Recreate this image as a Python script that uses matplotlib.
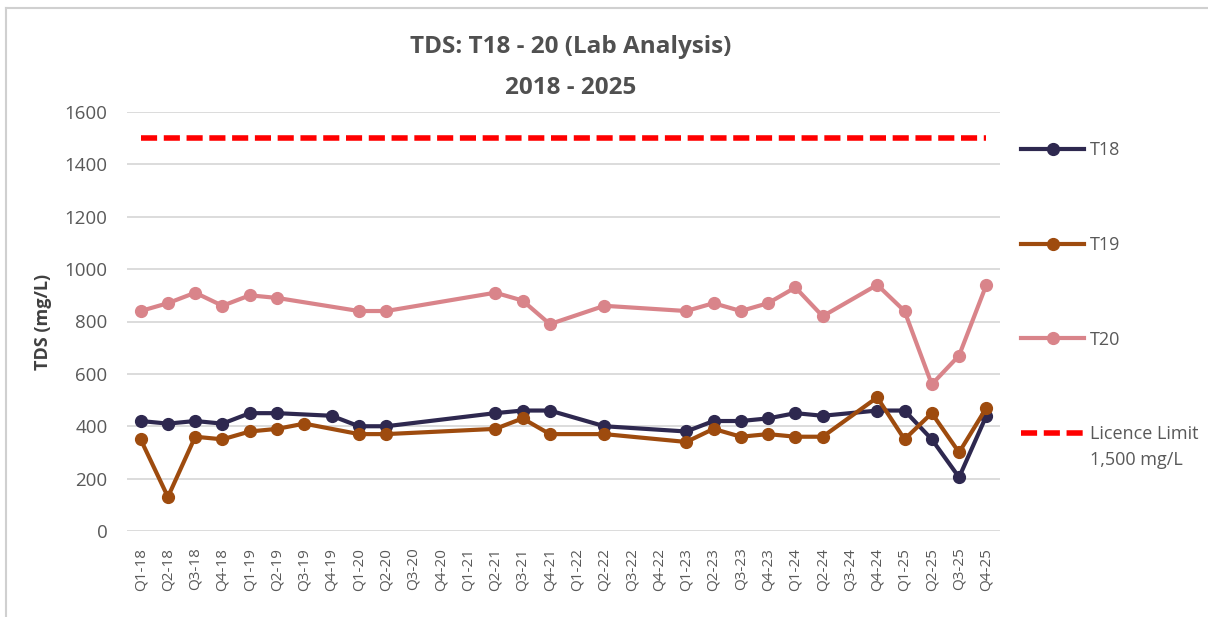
import numpy as np
import matplotlib
matplotlib.use("Agg")
import matplotlib.pyplot as plt
from matplotlib.lines import Line2D

plt.rcParams['font.family'] = ['Open Sans', 'DejaVu Sans']

quarters = [f"Q{q}-{y}" for y in range(18, 26) for q in range(1, 5)]

nan = np.nan
# TDS lab results (mg/L), blank where no sample was taken
t18 = [420, 410, 420, 410, 450, 450, nan, 440,
       400, 400, nan, nan, nan, 450, 460, 460,
       nan, 400, nan, nan, 380, 420, 420, 430,
       450, 440, nan, 460, 460, 350, 205, 440]
t19 = [350, 130, 360, 350, 380, 390, 410, nan,
       370, 370, nan, nan, nan, 390, 430, 370,
       nan, 370, nan, nan, 340, 390, 360, 370,
       360, 360, nan, 510, 350, 450, 300, 470]
t20 = [840, 870, 910, 860, 900, 890, nan, nan,
       840, 840, nan, nan, nan, 910, 880, 790,
       nan, 860, nan, nan, 840, 870, 840, 870,
       930, 820, nan, 940, 840, 560, 670, 940]
licence_limit = 1500

series = [
    ("T18", t18, "#2E284F"),
    ("T19", t19, "#9E4B0E"),
    ("T20", t20, "#D9848A"),
]

W, H = 1208, 617
fig = plt.figure(figsize=(W / 100, H / 100), dpi=100)
ax = fig.add_axes([127 / W, 1 - 531 / H, 873 / W, 419 / H])

x = np.arange(len(quarters))
for name, vals, col in series:
    v = np.array(vals, dtype=float)
    ok = ~np.isnan(v)
    # gaps are bridged, like "connect data points with line"
    ax.plot(x[ok], v[ok], color=col, lw=3.0, marker="o", ms=8.5,
            label=name, solid_joinstyle="round")

ax.plot(x, [licence_limit] * len(x), color="#FF0000", lw=4,
        dashes=(2.9, 1.2), label="Licence Limit")

ax.set_xlim(-0.5, len(quarters) - 0.5)
ax.set_ylim(0, 1600)
ax.set_yticks(range(0, 1601, 200))
ax.set_xticks(x)
ax.set_xticklabels(quarters, rotation=90, fontsize=11, color="#595959")
ax.tick_params(axis="y", labelsize=13.5, labelcolor="#595959", length=0, pad=14)
ax.tick_params(axis="x", length=0, pad=12)
ax.grid(axis="y", color="#D9D9D9", lw=1.3)
ax.set_axisbelow(True)
for s in ax.spines.values():
    s.set_visible(False)

ax.set_ylabel("TDS (mg/L)", fontsize=13, fontweight="bold", color="#404040",
              labelpad=9)

fig.text(571 / W, 1 - 47 / H, "TDS: T18 - 20 (Lab Analysis)", ha="center",
         va="center", fontsize=17.5, fontweight="bold", color="#505050")
fig.text(571 / W, 1 - 88 / H, "2018 - 2025", ha="center",
         va="center", fontsize=17.5, fontweight="bold", color="#505050")

leg = ax.legend(loc="upper left", bbox_to_anchor=(1.0055, 0.969), frameon=False,
                fontsize=13, labelcolor="#595959", handlelength=3.5,
                handletextpad=0.3, labelspacing=4.25)

# second line of the limit entry, under "Licence Limit"
fig.canvas.draw()
bb = leg.get_texts()[3].get_window_extent()
fig.text(bb.x0 / W, (bb.y0 - 8) / H, "1,500 mg/L", ha="left", va="top",
         fontsize=13, color="#595959")

# chart frame
fig.add_artist(Line2D([6 / W, 1.0], [1 - 8 / H] * 2, color="#D0D0D0",
                      lw=1.5, transform=fig.transFigure))
fig.add_artist(Line2D([6 / W] * 2, [0.0, 1 - 8 / H], color="#D0D0D0",
                      lw=1.5, transform=fig.transFigure))

fig.savefig("out.png", dpi=100)
